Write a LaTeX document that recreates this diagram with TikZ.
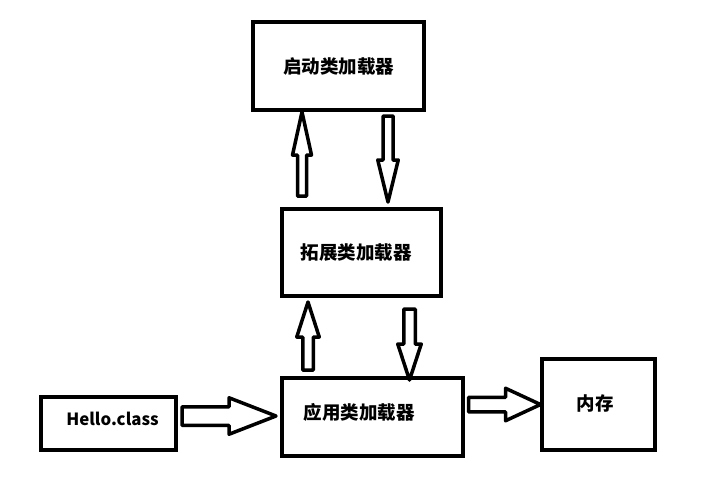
\documentclass[tikz,border=0pt]{standalone}
\usepackage{fontspec}
\newfontfamily\cjk{Noto Sans CJK SC}
\usetikzlibrary{calc}
\tikzset{
  box/.style={draw, line width=4pt, inner sep=0pt, fill=white},
  lbl/.style={font=\cjk\bfseries\fontsize{18.5}{20}\selectfont, inner sep=0pt},
  arrowline/.style={draw, line width=3.5pt, line join=round, fill=white}
}
% #1 tail, #2 angle, #3 total length, #4 shaft half width, #5 head half width, #6 head length
\newcommand\hollowarrow[6]{%
  \begin{scope}[shift={#1}, rotate=#2]
    \path[arrowline] (0,-#4) -- ({#3-#6},-#4) -- ({#3-#6},-#5) -- (#3,0)
      -- ({#3-#6},#5) -- ({#3-#6},#4) -- (0,#4) -- cycle;
  \end{scope}}
\begin{document}
\begin{tikzpicture}[x=1pt,y=-1pt]
\useasboundingbox[fill=white] (0,0) rectangle (715,488);
% boxes
\node[box, minimum width=171pt, minimum height=88pt] (b1) at (338.5,66) {};
\node[box, minimum width=159pt, minimum height=87pt] (b2) at (361.5,252.5) {};
\node[box, minimum width=181pt, minimum height=78pt] (b3) at (372.5,417) {};
\node[box, minimum width=135pt, minimum height=53pt] (hello) at (108.5,423.5) {};
\node[box, minimum width=113pt, minimum height=91pt] (mem) at (598.5,404.5) {};
% labels
\node[lbl] (t1) at ($(b1.center)+(0,1)$) {启动类加载器};
\node[lbl] (t2) at ($(b2.center)+(-5.5,0)$) {拓展类加载器};
\node[lbl] (t3) at ($(b3.center)+(-13.5,-5)$) {应用类加载器};
\node[lbl, font=\cjk\bfseries\fontsize{16.8}{18}\selectfont] (t4) at ($(hello.center)+(4,-5)$) {Hello.class};
\node[lbl] (t5) at ($(mem.center)+(-3.5,-1.5)$) {内存};
% arrows between boxes
\hollowarrow{($(b2.north west)+(22,-11)$)}{90}{84}{4.5}{9.5}{43}
\hollowarrow{($(b1.south west)+(137,4)$)}{-90}{86}{5}{10.25}{42}
\hollowarrow{($(b3.south west)+(28,-88)$)}{90}{68}{5.25}{11.25}{35}
\hollowarrow{($(b2.south west)+(129.5,11)$)}{-90}{71}{5.75}{11.75}{36}
\hollowarrow{($(hello.east)+(4,-7.5)$)}{0}{94}{9.25}{18.25}{47}
\hollowarrow{($(b3.east)+(3.5,-12.5)$)}{0}{72}{7.25}{16.25}{35}
\end{tikzpicture}
\end{document}
